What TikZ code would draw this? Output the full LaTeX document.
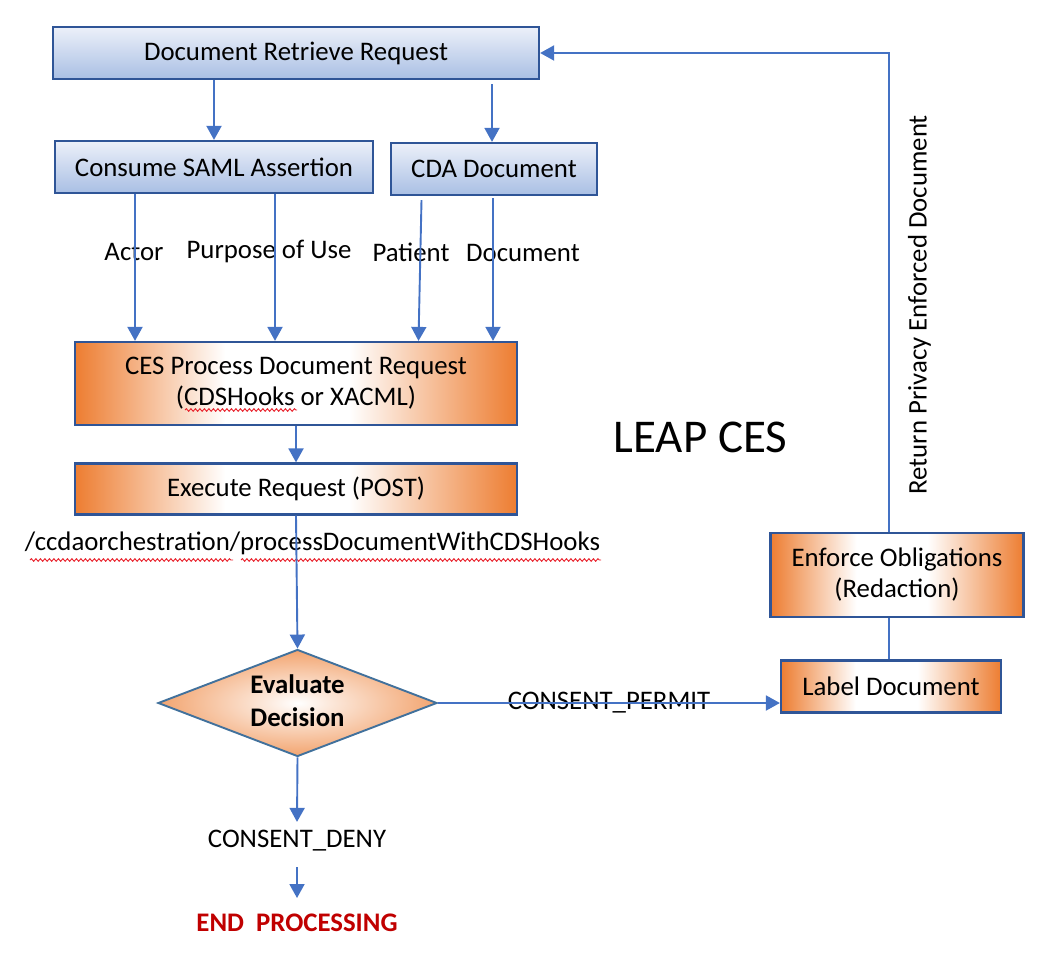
\documentclass[tikz,border=0pt]{standalone}
\usepackage{fontspec}
\setmainfont{Carlito}
\usetikzlibrary{shapes.geometric,arrows.meta,calc,decorations.pathmorphing}
\definecolor{lnblue}{HTML}{4472C4}
\definecolor{bxblue}{HTML}{2F5597}
\definecolor{dmblue}{HTML}{41719C}
\definecolor{orgc}{HTML}{ED7D31}
\definecolor{bltop}{HTML}{ECF0F9}
\definecolor{blbot}{HTML}{A9BFE4}
\definecolor{endred}{HTML}{C00000}
\definecolor{sqred}{HTML}{E8202A}
\pgfdeclarehorizontalshading{orgshade}{100bp}{color(0bp)=(orgc); color(25bp)=(orgc); color(42bp)=(white); color(56bp)=(white); color(75bp)=(orgc); color(100bp)=(orgc)}
\pgfdeclareradialshading{diashade}{\pgfpoint{0bp}{0bp}}{color(0bp)=(white); color(6bp)=(orgc!18!white); color(25bp)=(orgc!70!white); color(50bp)=(orgc!70!white)}
\begin{document}
\begin{tikzpicture}[x=1pt,y=-1pt,
  every node/.style={font=\fontsize{26.8}{31}\selectfont},
  boldtxt/.style={font=\fontsize{26.8}{32.7}\selectfont\bfseries},
  bluebox/.style={draw=bxblue, line width=2.2pt, top color=bltop, bottom color=blbot, inner sep=0pt},
  orgbox/.style={draw=bxblue, line width=2.2pt, shade, shading=orgshade, align=center, inner sep=0pt},
  lbl/.style={inner sep=0pt, anchor=base},
  conn/.style={draw=lnblue, line width=1.9pt},
  arr/.style={conn, -{Triangle[width=15pt,length=14pt]}},
  squig/.style={draw=sqred, line width=0.9pt, decorate, decoration={snake, amplitude=1.3pt, segment length=4.5pt}}]
\useasboundingbox (0,0) rectangle (1062,960);

% boxes
\node[bluebox, minimum width=486pt, minimum height=52pt] (drr) at (296,53) {Document Retrieve Request};
\node[bluebox, minimum width=318pt, minimum height=52pt] (saml) at (214,167) {Consume SAML Assertion};
\node[bluebox, minimum width=206pt, minimum height=52pt] (cda) at (494,169) {CDA Document};
\node[orgbox, minimum width=442pt, minimum height=83pt] (ces) at (296,383.5) {CES Process Document Request\\(CDSHooks or XACML)};
\node[orgbox, minimum width=442pt, minimum height=51pt] (exec) at (296,489) {Execute Request (POST)};
\node[diamond, draw=dmblue, line width=1.9pt, shade, shading=diashade, minimum width=279pt, minimum height=107pt, inner sep=0pt] (dec) at (297.5,703) {};
\node[boldtxt, align=center] (dect) at (297.5,701) {Evaluate\\Decision};
\node[orgbox, minimum width=220pt, minimum height=52pt] (lbld) at (891,686.5) {Label Document};
\node[orgbox, minimum width=253pt, minimum height=84pt] (enf) at (897,574.7) {Enforce Obligations\\(Redaction)};

% labels
\node[lbl] (actor) at (134,260) {Actor};
\node[lbl] (purp) at (269,258) {Purpose of Use};
\node[lbl] (pat) at (411,261) {Patient};
\node[lbl] (docl) at (523,261) {Document};
\node[lbl] (url) at (312.5,550) {/ccdaorchestration/processDocumentWithCDSHooks};
\node[lbl, font=\fontsize{47}{56}\selectfont] (leap) at (700.5,452.7) {LEAP CES};
\node[lbl, rotate=90] (ret) at (926.7,304.7) {Return Privacy Enforced Document};
\node[lbl] (permit) at (609,709) {CONSENT\_PERMIT};
\node[lbl] (deny) at (297,847) {CONSENT\_DENY};
\node[lbl, boldtxt, text=endred] (endp) at (297,931.7) {END\ \ PROCESSING};

% spell-check squiggles
\draw[squig] (185,410) -- (297,410);
\draw[squig] (30,560) -- (233,560);
\draw[squig] (241,560) -- (601,560);

% x positions of the vertical connectors
\coordinate (xa) at (135,0);
\coordinate (xu) at (275,0);
\coordinate (xp) at (419.5,0);
\coordinate (xd) at (493,0);
\coordinate (xr) at (889.3,0);

% connectors
\draw[arr] (saml.north |- drr.south) -- (saml.north);
\draw[arr] ($(cda.north |- drr.south)+(-2,4)$) -- ($(cda.north)+(-2,0)$);
\draw[arr] (xa |- saml.south) -- (xa |- ces.north);
\draw[arr] (xu |- saml.south) -- (xu |- ces.north);
\draw[arr] ($(xp |- cda.south)+(2,4)$) -- ($(xp |- ces.north)+(-1,0)$);
\draw[arr] ($(xd |- cda.south)+(0,2)$) -- (xd |- ces.north);
\draw[arr] (ces.south) -- (exec.north);
\draw[arr] (exec.south) -- (dec.north);
\draw[arr] (dec.east) -- (dec.east -| lbld.west);
\draw[arr] (dec.south) -- ($(deny.north)+(0,-7.5)$);
\draw[arr] ($(deny.base)+(0,20)$) -- ($(endp.base)+(0,-33.7)$);
\draw[conn] (xr |- lbld.north) -- (xr |- enf.south);
\draw[arr] (xr |- enf.north) |- (drr.east);
\end{tikzpicture}
\end{document}
